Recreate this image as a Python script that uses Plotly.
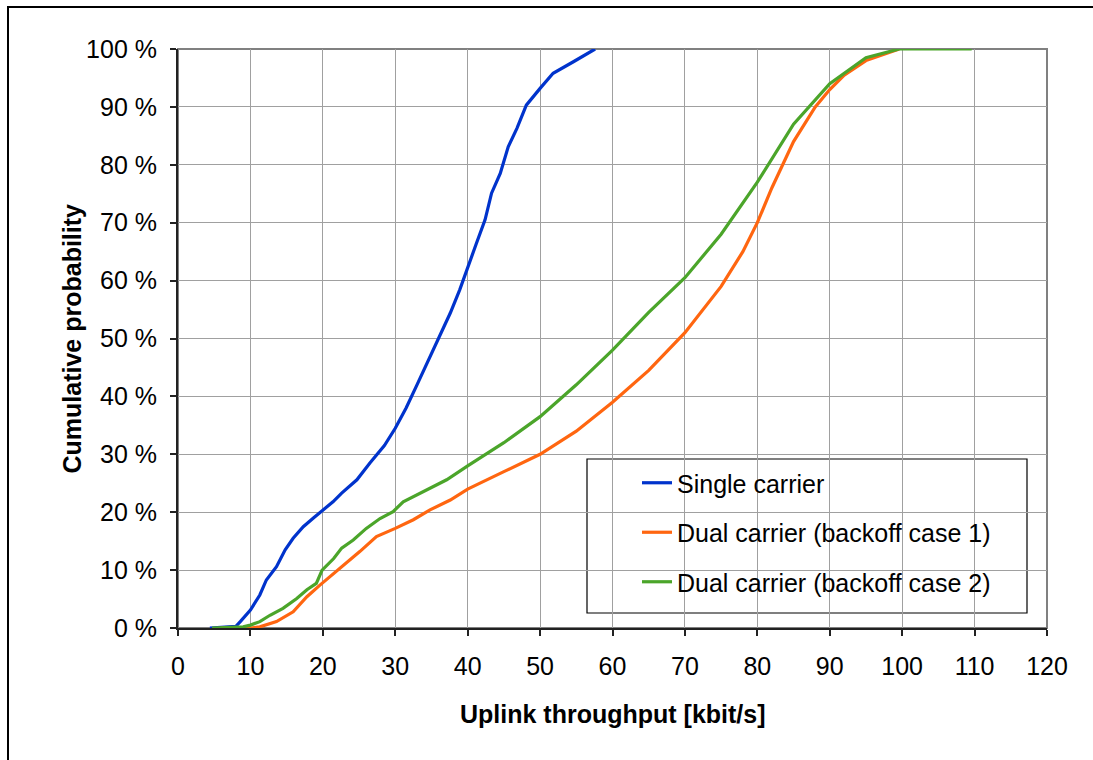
import plotly.graph_objects as go

# Throughput [kbit/s] vs cumulative probability [%]
single_x = [4.4, 8.0, 8.6, 10.0, 11.3, 12.2, 13.6, 14.8, 15.9, 17.3, 18.7, 20.0, 21.4, 22.6, 24.7,
            26.5, 28.5, 30.0, 31.5, 33.0, 34.5, 35.9, 37.6, 38.9, 40.1, 41.2, 42.4, 43.3, 44.5,
            45.6, 46.8, 48.1, 50.0, 51.8, 54.6, 57.6]
single_y = [0, 0.3, 1.1, 3.1, 5.7, 8.3, 10.6, 13.5, 15.5, 17.5, 19.0, 20.4, 21.8, 23.3, 25.6,
            28.5, 31.5, 34.5, 38.0, 42.0, 46.0, 50.0, 54.4, 58.4, 62.4, 66.4, 70.5, 75.1, 78.5,
            83.1, 86.3, 90.3, 93.2, 95.8, 97.8, 100]

dual1_x = [6.0, 10.0, 11.3, 13.6, 15.9, 17.8, 19.6, 22.4, 25.1, 27.4, 30.0, 32.5, 34.8, 37.6,
           40.0, 45.0, 50.0, 55.0, 60.0, 65.0, 70.0, 75.0, 78.0, 80.0, 82.0, 85.0, 88.0, 90.0,
           92.0, 95.0, 99.6]
dual1_y = [0, 0, 0.2, 1.1, 2.8, 5.4, 7.4, 10.3, 13.2, 15.8, 17.2, 18.7, 20.4, 22.1,
           24.0, 27.0, 30.0, 34.0, 39.0, 44.5, 51.0, 59.0, 65.0, 70.0, 76.0, 84.0, 90.0, 93.0,
           95.5, 98.0, 100]

dual2_x = [4.7, 9.0, 10.0, 11.3, 12.7, 14.5, 16.4, 17.8, 19.1, 19.9, 21.5, 22.6, 24.2, 26.0,
           27.9, 29.7, 31.1, 33.9, 37.1, 40.0, 45.0, 50.0, 55.0, 60.0, 65.0, 70.0, 75.0, 80.0,
           85.0, 90.0, 95.0, 99.6, 109.6]
dual2_y = [0, 0.2, 0.5, 1.1, 2.2, 3.4, 5.1, 6.6, 7.7, 10.0, 12.0, 13.8, 15.2, 17.2,
           18.9, 20.1, 21.8, 23.6, 25.6, 28.0, 32.0, 36.5, 42.0, 48.0, 54.5, 60.5, 68.0, 77.0,
           87.0, 94.0, 98.5, 100, 100]

names = ["Single carrier", "Dual carrier (backoff case 1)", "Dual carrier (backoff case 2)"]
colors = ["#0033cc", "#ff6610", "#4ba52a"]
xs = [single_x, dual1_x, dual2_x]
ys = [single_y, dual1_y, dual2_y]

FONT = "Arial, Liberation Sans, sans-serif"
FS = 25

fig = go.Figure()
for i in range(3):
    fig.add_trace(go.Scatter(x=xs[i], y=ys[i], mode="lines", name=names[i],
                             legendgroup=str(i),
                             line=dict(color=colors[i], width=3.2)))

W, H = 1093, 760
L, R, T, B = 178, 1047, 49, 628
pw, ph = R - L, B - T

def px(xp):
    return (xp - L) / pw

def py(yp):
    return (B - yp) / ph

fig.update_layout(
    width=W, height=H,
    margin=dict(l=L, r=W - R, t=T, b=H - B),
    paper_bgcolor="white", plot_bgcolor="white",
    font=dict(family=FONT, size=FS, color="black"),
    showlegend=True,
    legend=dict(x=px(637), y=py(460), xanchor="left", yanchor="top",
                bgcolor="rgba(0,0,0,0)", borderwidth=0,
                traceorder="grouped", tracegroupgap=14,
                font=dict(family=FONT, size=FS, color="black")),
    xaxis=dict(range=[0, 120], dtick=10, tick0=0, showgrid=True, gridcolor="#a0a0a0",
               gridwidth=1, zeroline=False, showline=True, linecolor="#222222", linewidth=2,
               ticks="outside", ticklen=6, tickwidth=1.5, tickcolor="#222222",
               ticklabelstandoff=9),
    yaxis=dict(range=[0, 100], dtick=10, tick0=0, ticksuffix=" %", showgrid=True,
               gridcolor="#a0a0a0", gridwidth=1, zeroline=False, showline=True,
               linecolor="#222222", linewidth=2, ticks="outside", ticklen=6, tickwidth=1.5,
               tickcolor="#222222", ticklabelstandoff=8),
    shapes=[
        # plot-area border (top/right grey)
        dict(type="rect", xref="paper", yref="paper", x0=0, x1=1, y0=0, y1=1,
             line=dict(color="#808080", width=2), layer="below"),
        # legend box
        dict(type="rect", xref="paper", yref="paper", x0=px(587), x1=px(1027),
             y0=py(613), y1=py(459), line=dict(color="black", width=1.2),
             fillcolor="white", layer="below"),
        # chart outer frame (only left and top edges lie inside the picture)
        dict(type="line", xref="paper", yref="paper", x0=px(8), x1=px(8),
             y0=py(780), y1=py(6), line=dict(color="black", width=2)),
        dict(type="line", xref="paper", yref="paper", x0=px(7), x1=px(1120),
             y0=py(7), y1=py(7), line=dict(color="black", width=2)),
    ],
    annotations=[
        dict(text="<b>Uplink throughput [kbit/s]</b>", xref="paper", yref="paper",
             x=0.5, y=py(714), xanchor="center", yanchor="middle", showarrow=False,
             font=dict(family=FONT, size=FS, color="black")),
        dict(text="<b>Cumulative probability</b>", xref="paper", yref="paper",
             x=px(71), y=0.5, xanchor="center", yanchor="middle", showarrow=False,
             textangle=-90, font=dict(family=FONT, size=FS, color="black")),
    ],
)

fig.write_html("out.html", config={"displayModeBar": False},
               post_script="document.body.style.margin='0';document.body.style.overflow='hidden';")
